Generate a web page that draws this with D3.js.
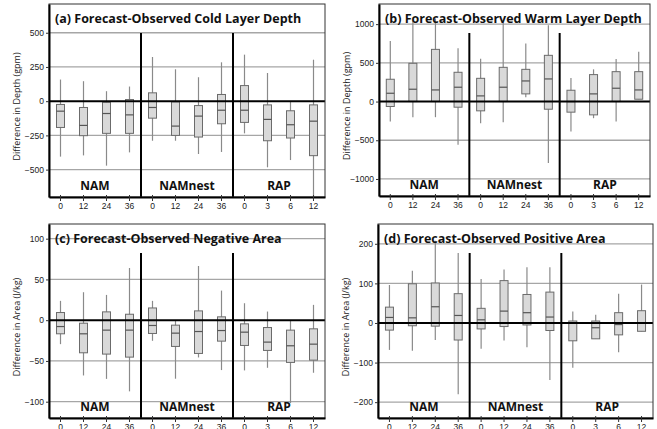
<!DOCTYPE html>
<html><head><meta charset="utf-8">
<script src="https://cdn.jsdelivr.net/npm/d3@7"></script>
<style>
html,body{margin:0;padding:0;background:#fff;}
svg{display:block;font-family:"Open Sans","Noto Sans",sans-serif;}
</style></head>
<body><svg id="chart" width="657" height="429"></svg>
<script>
// ---- data ----
const leadLabels = ["0","12","24","36","0","12","24","36","0","3","6","12"];
const modelGroups = ["NAM","NAMnest","RAP"];

const titles = ["(a) Forecast-Observed Cold Layer Depth","(b) Forecast-Observed Warm Layer Depth",
                "(c) Forecast-Observed Negative Area","(d) Forecast-Observed Positive Area"];
const yLabels = ["Difference in Depth (gpm)","Difference in Depth (gpm)",
                 "Difference in Area (J/kg)","Difference in Area (J/kg)"];
const yTicksA = [-500,-250,0,250,500];
const yTicksB = [-1000,-500,0,500,1000];
const yTicksC = [-100,-50,0,50,100];
const yTicksD = [-200,-100,0,100,200];
const yDomainA = [-700,710];
const yDomainB = [-1220,1260];
const yDomainC = [-120,118];
const yDomainD = [-240,250];

// (a) cold layer depth
const coldMin = [-405,-396,-471,-374,-289,-289,-386,-371,-235,-483,-430,-700];
const coldQ1  = [-192,-252,-235,-235,-124,-250,-262,-165,-155,-289,-269,-398];
const coldMed = [-73,-177,-90,-100,-46,-182,-109,-66,-66,-133,-172,-146];
const coldQ3  = [-24,-46,-8,12,61,-5,-32,49,114,-27,-70,-27];
const coldMax = [158,146,73,107,323,233,175,284,340,206,0,303];
// (b) warm layer depth
const warmMin = [-258,-202,-202,-558,-279,-266,56,-794,-386,-215,-258,30];
const warmQ1  = [-64,0,0,-73,-120,0,99,-99,-137,-172,0,30];
const warmMed = [107,159,150,185,73,185,266,292,0,99,172,150];
const warmQ3  = [288,494,674,378,300,442,416,597,146,348,386,386];
const warmMax = [781,1045,1073,687,554,1017,751,987,305,416,549,644];
// (c) negative area
const negMin = [-29.4,-67.8,-72,-87.3,-25.3,-71.8,-45.7,-61.2,-61.6,-58.4,-101.6,-64.5];
const negQ1  = [-16.7,-40,-41.6,-45.3,-16.3,-32.2,-40.8,-25.7,-31,-37.1,-51.8,-49];
const negMed = [-7.8,-16.7,-12.2,-12.2,-6.5,-15.9,-13.9,-12.7,-14.7,-26.9,-31.4,-29.4];
const negQ3  = [9.4,-3.7,10.2,7.3,15,-6.1,11.4,4.1,-4.5,-9,-12.2,-10.6];
const negMax = [23.7,34.3,31,64,23.7,0,66.5,36.3,20.8,10.6,0,18.8];
// (d) positive area
const posMin = [-68,-70,-43,-180,-65,-44,-61,-144,-113,-40,-74,-21];
const posQ1  = [-18,-7,-8,-43,-15,-9,-5,-19,-45,-40,-30,-21];
const posMed = [14,13,41,19,8,30,26,15,0,-12,-4,-1];
const posQ3  = [40,99,101,74,37,107,72,78,5,5,26,31];
const posMax = [96,132,208,177,111,135,141,141,29,21,74,97];

const panels = [
  {title:titles[0], ylab:yLabels[0], ticks:yTicksA, dom:yDomainA, d:[coldMin,coldQ1,coldMed,coldQ3,coldMax], box:{l:49,r:325,t:4,b:197}},
  {title:titles[1], ylab:yLabels[1], ticks:yTicksB, dom:yDomainB, d:[warmMin,warmQ1,warmMed,warmQ3,warmMax], box:{l:379,r:650,t:4,b:196}},
  {title:titles[2], ylab:yLabels[2], ticks:yTicksC, dom:yDomainC, d:[negMin,negQ1,negMed,negQ3,negMax], box:{l:49,r:325,t:224,b:418}},
  {title:titles[3], ylab:yLabels[3], ticks:yTicksD, dom:yDomainD, d:[posMin,posQ1,posMed,posQ3,posMax], box:{l:378,r:653,t:224,b:418}}
];

const svg = d3.select("#chart");

panels.forEach((p,pi)=>{
  const B = p.box;
  const g = svg.append("g");
  const idx = d3.range(leadLabels.length);
  const x = d3.scaleBand().domain(idx).range([B.l,B.r]).padding(0);
  const y = d3.scaleLinear().domain(p.dom).range([B.b,B.t]);
  const clipId = "clip"+pi;
  svg.append("clipPath").attr("id",clipId).append("rect")
    .attr("x",B.l).attr("y",B.t).attr("width",B.r-B.l).attr("height",B.b-B.t);

  // gridlines
  g.append("g").selectAll("line").data(p.ticks.filter(v=>v!==0)).join("line")
    .attr("x1",B.l).attr("x2",B.r).attr("y1",d=>y(d)).attr("y2",d=>y(d))
    .attr("stroke","#a6a6a6").attr("stroke-width",1.3);

  // dividers between model groups
  [4,8].forEach(k=>{
    g.append("line").attr("x1",x(k)).attr("x2",x(k)).attr("y1",B.t+29).attr("y2",B.b)
      .attr("stroke","#000").attr("stroke-width",2);
  });

  // boxes
  const bw = 8;
  const bx = g.append("g").attr("clip-path",`url(#${clipId})`);
  const [mn,q1,md,q3,mx] = p.d;
  idx.forEach(i=>{
    const cx = x(i)+x.bandwidth()/2;
    bx.append("line").attr("x1",cx).attr("x2",cx).attr("y1",y(mn[i])).attr("y2",y(mx[i]))
      .attr("stroke","#8a8a8a").attr("stroke-width",1.2);
    bx.append("rect").attr("x",cx-bw/2).attr("width",bw)
      .attr("y",y(q3[i])).attr("height",Math.max(0.5,y(q1[i])-y(q3[i])))
      .attr("fill","#d9d9d9").attr("stroke","#6b6b6b").attr("stroke-width",1);
    bx.append("line").attr("x1",cx-bw/2).attr("x2",cx+bw/2).attr("y1",y(md[i])).attr("y2",y(md[i]))
      .attr("stroke","#555").attr("stroke-width",1.2);
  });

  // zero line
  g.append("line").attr("x1",B.l).attr("x2",B.r).attr("y1",y(0)).attr("y2",y(0))
    .attr("stroke","#000").attr("stroke-width",2);

  // frame
  g.append("rect").attr("x",B.l).attr("y",B.t).attr("width",B.r-B.l).attr("height",B.b-B.t)
    .attr("fill","none").attr("stroke","#333").attr("stroke-width",1);

  // y axis
  const ya = d3.axisLeft(y).tickValues(p.ticks).tickFormat(d3.format("d"))
    .tickSize(3).tickSizeOuter(0).tickPadding(2);
  const yg = g.append("g").attr("transform",`translate(${B.l},0)`).call(ya);
  yg.select(".domain").attr("stroke","#000").attr("stroke-width",2);
  yg.selectAll(".tick line").attr("stroke","#333");
  yg.selectAll("text").attr("font-size",8.5).attr("fill","#222");

  // x axis
  const xa = d3.axisBottom(x).tickFormat(i=>leadLabels[i]).tickSize(4).tickSizeOuter(0).tickPadding(2);
  const xg = g.append("g").attr("transform",`translate(0,${B.b})`).call(xa);
  xg.select(".domain").attr("stroke","#000").attr("stroke-width",2);
  xg.selectAll(".tick line").attr("stroke","#333").attr("y1",-2);
  xg.selectAll("text").attr("font-size",8.5).attr("fill","#222");

  // y label
  g.append("text").attr("transform",`translate(${B.l-29},${(B.t+B.b)/2+6}) rotate(-90)`)
    .attr("text-anchor","middle").attr("font-size",9).attr("fill","#222").text(p.ylab);

  // title
  g.append("text").attr("x",B.l+6).attr("y",B.t+19).attr("font-size",12.5).attr("font-weight","bold")
    .attr("fill","#111").text(p.title);

  // group labels
  modelGroups.forEach((m,k)=>{
    const x0 = x(k*4), x1 = x(k*4+3)+x.bandwidth();
    g.append("text").attr("x",(x0+x1)/2).attr("y",B.b-7).attr("text-anchor","middle")
      .attr("font-size",12).attr("font-weight","bold").attr("fill","#111").text(m);
  });
});
</script></body></html>
